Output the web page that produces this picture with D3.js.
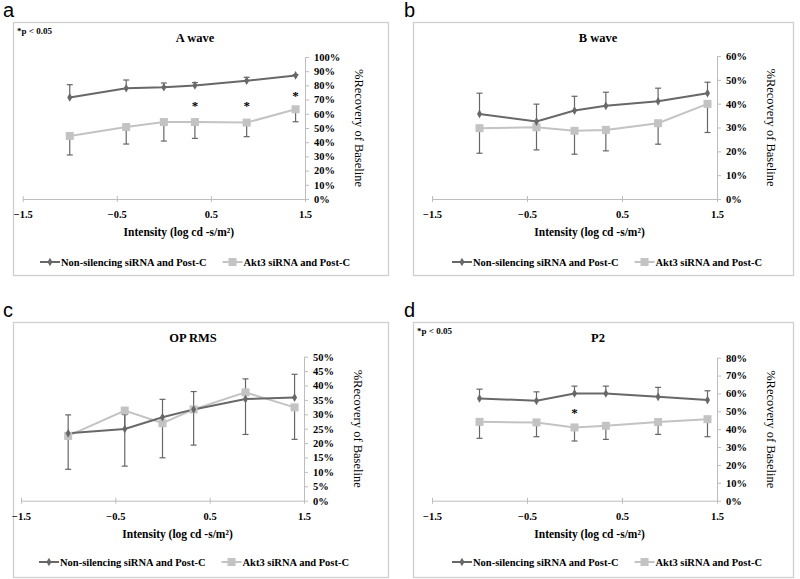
<!DOCTYPE html>
<html><head><meta charset="utf-8">
<script src="https://cdn.jsdelivr.net/npm/d3@7"></script>
<style>body{margin:0;background:#fff} svg{display:block}</style>
</head><body>
<svg id="chart" width="800" height="579"></svg>
<script>
// ---------- data ----------
const intensity = [-1.0, -0.4, 0.0, 0.33, 0.88, 1.4];
const xTicks = [-1.5, -0.5, 0.5, 1.5];
const seriesNames = ["Non-silencing siRNA and Post-C", "Akt3 siRNA and Post-C"];
const panelLetters = ["a", "b", "c", "d"];
const panelTitles = ["A wave", "B wave", "OP RMS", "P2"];
const xTitle = "Intensity (log cd -s/m²)";
const yTitle = "%Recovery of Baseline";
const sigNote = "*p < 0.05";

// A wave
const aCtrl     = [71.5, 78.0, 78.7, 80.0, 83.3, 87.0];
const aCtrlErr  = [9.0, 5.8, 3.0, 2.0, 2.4, 0.6];
const aAkt3     = [44.4, 50.7, 54.2, 54.2, 53.8, 63.2];
const aAkt3Err  = [13.4, 12.0, 13.4, 11.5, 9.9, 8.8];
const aSig      = [null, null, null, 66.7, 66.7, 73.7];
const aYTicks   = [0, 10, 20, 30, 40, 50, 60, 70, 80, 90, 100];

// B wave
const bCtrl     = [35.7, 32.5, 37.1, 39.1, 41.0, 44.4];
const bCtrlErr  = [8.7, 7.3, 6.0, 5.7, 5.5, 4.6];
const bAkt3     = [29.7, 30.1, 28.6, 29.0, 31.8, 39.9];
const bAkt3Err  = [10.5, 9.5, 9.8, 8.8, 8.8, 12.0];
const bSig      = [null, null, null, null, null, null];
const bYTicks   = [0, 10, 20, 30, 40, 50, 60];

// OP RMS
const cCtrl     = [23.4, 24.9, 29.0, 31.7, 35.3, 35.8];
const cCtrlErr  = [6.4, 5.0, 6.2, 6.2, 7.0, 8.1];
const cAkt3     = [22.5, 31.3, 26.9, 31.7, 37.6, 32.4];
const cAkt3Err  = [11.6, 19.3, 12.0, 12.4, 14.6, 11.1];
const cSig      = [null, null, null, null, null, null];
const cYTicks   = [0, 5, 10, 15, 20, 25, 30, 35, 40, 45, 50];

// P2
const dCtrl     = [57.2, 55.9, 60.0, 60.0, 58.1, 56.3];
const dCtrlErr  = [5.2, 5.0, 4.1, 4.1, 5.3, 5.2];
const dAkt3     = [44.1, 43.8, 41.0, 41.9, 44.0, 45.6];
const dAkt3Err  = [9.2, 8.0, 7.6, 7.6, 6.9, 9.8];
const dSig      = [null, null, 50.1, null, null, null];
const dYTicks   = [0, 10, 20, 30, 40, 50, 60, 70, 80];

// ---------- layout ----------
const layouts = [
  {box:[13,22,388,275], plot:[22.7,57,305,199], letter:[3,17], title:195, note:true, legendC:195},
  {box:[413,22,793,275], plot:[432,56,717,199], letter:[404,17], title:598, note:false, legendC:607},
  {box:[13,322,388,577], plot:[21,356.7,304,500.7], letter:[3,317], title:193, note:false, legendC:194},
  {box:[413,322,793,577], plot:[432,357.7,717,500.7], letter:[404,317], title:598, note:true, legendC:607}
];
const panels = [
  {ctrl:aCtrl, ctrlErr:aCtrlErr, akt:aAkt3, aktErr:aAkt3Err, sig:aSig, yt:aYTicks},
  {ctrl:bCtrl, ctrlErr:bCtrlErr, akt:bAkt3, aktErr:bAkt3Err, sig:bSig, yt:bYTicks},
  {ctrl:cCtrl, ctrlErr:cCtrlErr, akt:cAkt3, aktErr:cAkt3Err, sig:cSig, yt:cYTicks},
  {ctrl:dCtrl, ctrlErr:dCtrlErr, akt:dAkt3, aktErr:dAkt3Err, sig:dSig, yt:dYTicks}
];

const DARK = "#686868", LIGHT = "#c3c3c3", ERR = "#666666", AXIS = "#bdbdbd";
const SERIF = "'Liberation Serif','Times New Roman',serif";
const svg = d3.select("#chart");

panels.forEach((p, i) => {
  const L = layouts[i];
  const g = svg.append("g");
  const [bx0, by0, bx1, by1] = L.box;
  const [px0, py0, px1, py1] = L.plot;

  g.append("rect").attr("x", bx0 + 0.5).attr("y", by0 + 0.5)
    .attr("width", bx1 - bx0).attr("height", by1 - by0)
    .attr("fill", "none").attr("stroke", "#cfcfcf").attr("stroke-width", 1.3);

  g.append("text").attr("x", L.letter[0]).attr("y", L.letter[1])
    .attr("font-family", "'Liberation Sans',Arial,sans-serif").attr("font-size", 20)
    .text(panelLetters[i]);

  const x = d3.scaleLinear().domain([-1.5, 1.5]).range([px0, px1]);
  const y = d3.scaleLinear().domain([0, d3.max(p.yt)]).range([py1, py0]);

  // title
  g.append("text").attr("x", L.title).attr("y", by0 + 20)
    .attr("text-anchor", "middle").attr("font-family", SERIF)
    .attr("font-weight", "bold").attr("font-size", 12.5).text(panelTitles[i]);

  if (L.note) {
    g.append("text").attr("x", bx0 + 4).attr("y", by0 + 12)
      .attr("font-family", SERIF).attr("font-weight", "bold").attr("font-size", 9)
      .text(sigNote);
  }

  // x axis
  const xa = g.append("g").attr("transform", `translate(0,${py1})`)
    .call(d3.axisBottom(x).tickValues(xTicks).tickFormat(d => d3.format(".1f")(d))
      .tickSizeInner(3).tickSizeOuter(0).tickPadding(9));
  xa.select(".domain").attr("stroke", AXIS);
  xa.selectAll(".tick line").attr("stroke", AXIS).attr("y1", -3);
  xa.selectAll(".tick text").attr("font-family", SERIF).attr("font-weight", "bold")
    .attr("font-size", 10.5).attr("fill", "#000");

  // y axis on the right
  const ya = g.append("g").attr("transform", `translate(${px1},0)`)
    .call(d3.axisRight(y).tickValues(p.yt).tickFormat(d => d + "%")
      .tickSizeInner(4).tickSizeOuter(0).tickPadding(5));
  ya.select(".domain").attr("stroke", AXIS);
  ya.selectAll(".tick line").attr("stroke", AXIS);
  ya.selectAll(".tick text").attr("font-family", SERIF).attr("font-weight", "bold")
    .attr("font-size", 10.5).attr("fill", "#000");

  // axis titles
  g.append("text").attr("x", (px0 + px1) / 2 + 15).attr("y", py1 + 37)
    .attr("text-anchor", "middle").attr("font-family", SERIF)
    .attr("font-weight", "bold").attr("font-size", 11.5).text(xTitle);

  g.append("text")
    .attr("transform", `translate(${px1 + 50},${(py0 + py1) / 2}) rotate(90)`)
    .attr("text-anchor", "middle").attr("font-family", SERIF)
    .attr("font-size", 12.5).text(yTitle);

  const ctrlPts = intensity.map((v, k) => ({x: v, y: p.ctrl[k], e: p.ctrlErr[k]}));
  const aktPts = intensity.map((v, k) => ({x: v, y: p.akt[k], e: p.aktErr[k]}));
  const line = d3.line().x(d => x(d.x)).y(d => y(d.y));

  // error bars (control: up, Akt3: down)
  const errG = g.append("g").attr("stroke", ERR).attr("stroke-width", 1.2);
  ctrlPts.forEach(d => {
    errG.append("line").attr("x1", x(d.x)).attr("x2", x(d.x)).attr("y1", y(d.y)).attr("y2", y(d.y + d.e));
    errG.append("line").attr("x1", x(d.x) - 3).attr("x2", x(d.x) + 3).attr("y1", y(d.y + d.e)).attr("y2", y(d.y + d.e));
  });
  aktPts.forEach(d => {
    errG.append("line").attr("x1", x(d.x)).attr("x2", x(d.x)).attr("y1", y(d.y)).attr("y2", y(d.y - d.e));
    errG.append("line").attr("x1", x(d.x) - 3).attr("x2", x(d.x) + 3).attr("y1", y(d.y - d.e)).attr("y2", y(d.y - d.e));
  });

  g.append("path").datum(aktPts).attr("d", line).attr("fill", "none")
    .attr("stroke", LIGHT).attr("stroke-width", 2);
  g.append("path").datum(ctrlPts).attr("d", line).attr("fill", "none")
    .attr("stroke", DARK).attr("stroke-width", 2);

  g.selectAll(".sq").data(aktPts).enter().append("rect")
    .attr("x", d => x(d.x) - 4).attr("y", d => y(d.y) - 4)
    .attr("width", 8).attr("height", 8).attr("fill", LIGHT);
  g.selectAll(".dm").data(ctrlPts).enter().append("path")
    .attr("d", d3.symbol().type(d3.symbolDiamond).size(22))
    .attr("transform", d => `translate(${x(d.x)},${y(d.y)})`).attr("fill", DARK);

  // significance asterisks
  intensity.forEach((v, k) => {
    if (p.sig[k] != null) {
      g.append("text").attr("x", x(v)).attr("y", y(p.sig[k]) + 6)
        .attr("text-anchor", "middle").attr("font-family", SERIF)
        .attr("font-weight", "bold").attr("font-size", 13).text("*");
    }
  });

  // legend
  const lg = g.append("g");
  const ly = by0 + 240;
  const items = [{name: seriesNames[0], c: DARK, m: "d"}, {name: seriesNames[1], c: LIGHT, m: "s"}];
  const parts = [];
  items.forEach((it) => {
    const ig = lg.append("g");
    ig.append("line").attr("x1", 0).attr("x2", 20).attr("y1", 0).attr("y2", 0)
      .attr("stroke", it.c).attr("stroke-width", 2);
    if (it.m === "d") {
      ig.append("path").attr("d", d3.symbol().type(d3.symbolDiamond).size(22)())
        .attr("transform", "translate(10,0)").attr("fill", it.c);
    } else {
      ig.append("rect").attr("x", 6).attr("y", -4).attr("width", 8).attr("height", 8).attr("fill", it.c);
    }
    const t = ig.append("text").attr("x", 21).attr("y", 3.5)
      .attr("font-family", SERIF).attr("font-weight", "bold").attr("font-size", 10.5)
      .text(it.name);
    const w = 21 + t.node().getComputedTextLength();
    parts.push({ig, w});
  });
  const gap = 16;
  const total = parts[0].w + gap + parts[1].w;
  let sx = L.legendC - total / 2;
  parts.forEach(pt => {
    pt.ig.attr("transform", `translate(${sx},${ly})`);
    sx += pt.w + gap;
  });
});
</script>
</body></html>
